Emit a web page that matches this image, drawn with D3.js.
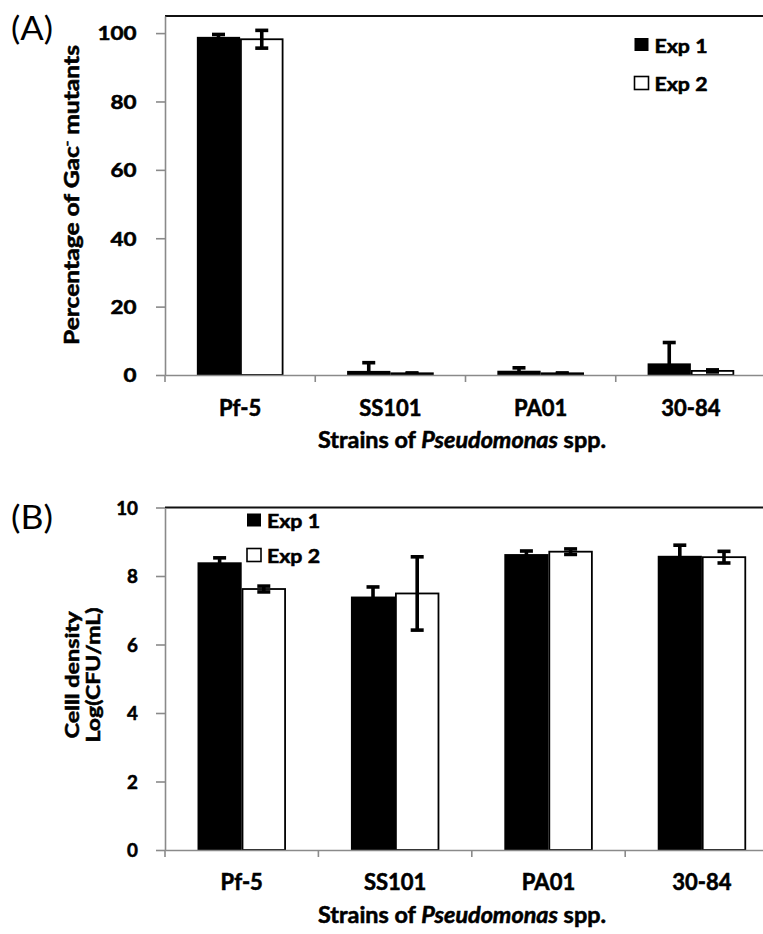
<!DOCTYPE html>
<html><head><meta charset="utf-8">
<script src="https://cdn.jsdelivr.net/npm/d3@7"></script>
<style>
body{margin:0;background:#fff}
svg{display:block}
text{font-family:Lato,'Open Sans',sans-serif}
.b{stroke:#000;stroke-width:0.55px;paint-order:fill}
</style>
</head><body>
<svg id="c" width="763" height="934"></svg>
<script>
// ---- data ----
const categories = ["Pf-5", "SS101", "PA01", "30-84"];
const seriesNames = ["Exp 1", "Exp 2"];
// Panel A: percentage of Gac- mutants
const gacExp1 = [98.9, 1.2, 1.25, 3.4];
const gacExp1Err = [0.7, 2.4, 0.85, 6.1];
const gacExp2 = [98.2, 0.5, 0.5, 1.2];
const gacExp2Err = [2.6, 0.1, 0.1, 0.3];
const gacTicks = [0, 20, 40, 60, 80, 100];
// Panel B: cell density log(CFU/mL)
const cfuExp1 = [8.40, 7.40, 8.64, 8.59];
const cfuExp1Err = [0.13, 0.28, 0.09, 0.31];
const cfuExp2 = [7.62, 7.49, 8.71, 8.55];
const cfuExp2Err = [0.085, 1.07, 0.08, 0.17];
const cfuTicks = [0, 2, 4, 6, 8, 10];

const svg = d3.select("#c");
const AXIS_GREY = "#8a8a8a";

function panel(cfg) {
  const g = svg.append("g");
  const x = d3.scaleBand().domain(categories).range([cfg.left, cfg.right]).padding(0);
  const y = d3.scaleLinear().domain([0, cfg.yMax]).range([cfg.bottom, cfg.top]);
  const bw = x.bandwidth();
  const barW = bw * 0.288;
  const xs = d3.scaleBand().domain(seriesNames).range([bw / 2 - barW, bw / 2 + barW]).padding(0);

  const rows = categories.map((c, i) => ({
    cat: c,
    vals: [
      { s: "Exp 1", v: cfg.e1[i], e: cfg.e1e[i] },
      { s: "Exp 2", v: cfg.e2[i], e: cfg.e2e[i] }
    ]
  }));

  // top frame line
  g.append("line")
    .attr("x1", cfg.left).attr("x2", cfg.right)
    .attr("y1", y(cfg.yMax)).attr("y2", y(cfg.yMax))
    .attr("stroke", "#111").attr("stroke-width", 1.8);

  // y axis
  const ya = g.append("g").attr("transform", `translate(${cfg.left},0)`)
    .call(d3.axisLeft(y).tickValues(cfg.ticks).tickSize(9).tickSizeOuter(0));
  ya.select(".domain").attr("stroke", AXIS_GREY).attr("stroke-width", 1.6);
  ya.selectAll(".tick line").attr("stroke", AXIS_GREY).attr("stroke-width", 1.6);
  ya.selectAll(".tick text")
    .attr("class", "b")
    .attr("x", -cfg.tickLabelGap).attr("dy", "0.36em")
    .attr("font-size", 19).attr("font-weight", 700).attr("fill", "#000")
    .attr("font-family", "Lato, sans-serif")
    .attr("textLength", function () { return this.textContent.length * cfg.digitW; })
    .attr("lengthAdjust", "spacingAndGlyphs");

  // bars
  const grp = g.selectAll(".cat").data(rows).join("g")
    .attr("transform", d => `translate(${x(d.cat)},0)`);
  grp.selectAll("rect").data(d => d.vals).join("rect")
    .attr("x", d => xs(d.s) + (d.s === "Exp 2" ? 0.8 : 0))
    .attr("width", d => xs.bandwidth() - (d.s === "Exp 2" ? 1.6 : 0))
    .attr("y", d => y(d.v))
    .attr("height", d => y(0) - y(d.v))
    .attr("fill", d => d.s === "Exp 1" ? "#000" : "#fff")
    .attr("stroke", "#000")
    .attr("stroke-width", d => d.s === "Exp 1" ? 0 : 1.8);

  // error bars
  const capW = 13, eW = 3.6;
  const eb = grp.selectAll(".eb").data(d => d.vals).join("g").attr("class", "eb");
  eb.append("line")
    .attr("x1", d => xs(d.s) + xs.bandwidth() / 2).attr("x2", d => xs(d.s) + xs.bandwidth() / 2)
    .attr("y1", d => y(d.v + d.e)).attr("y2", d => y(Math.max(0, d.v - d.e)))
    .attr("stroke", "#000").attr("stroke-width", eW);
  eb.append("line")
    .attr("x1", d => xs(d.s) + xs.bandwidth() / 2 - capW / 2).attr("x2", d => xs(d.s) + xs.bandwidth() / 2 + capW / 2)
    .attr("y1", d => y(d.v + d.e)).attr("y2", d => y(d.v + d.e))
    .attr("stroke", "#000").attr("stroke-width", eW);
  eb.filter(d => d.v - d.e > 0).append("line")
    .attr("x1", d => xs(d.s) + xs.bandwidth() / 2 - capW / 2).attr("x2", d => xs(d.s) + xs.bandwidth() / 2 + capW / 2)
    .attr("y1", d => y(d.v - d.e)).attr("y2", d => y(d.v - d.e))
    .attr("stroke", "#000").attr("stroke-width", eW);

  // x axis: labels at band centres, ticks at band edges
  const xa = g.append("g").attr("transform", `translate(0,${y(0)})`)
    .call(d3.axisBottom(x).tickSize(0).tickSizeOuter(0));
  xa.select(".domain").attr("stroke", AXIS_GREY).attr("stroke-width", 1.6);
  xa.selectAll(".tick text")
    .attr("class", "b")
    .attr("y", cfg.catLabelDy).attr("dy", 0)
    .attr("font-size", 22).attr("font-weight", 700).attr("fill", "#000")
    .attr("font-family", "Lato, sans-serif");
  const edges = categories.map(c => x(c)).concat([cfg.right]);
  xa.selectAll(".edge").data(edges).join("line").attr("class", "edge")
    .attr("x1", d => d).attr("x2", d => d).attr("y1", 0).attr("y2", 7)
    .attr("stroke", AXIS_GREY).attr("stroke-width", 1.6);

  // x title
  const xt = g.append("text").attr("class", "b")
    .attr("x", cfg.titleX).attr("y", cfg.xTitleY)
    .attr("text-anchor", "middle").attr("font-size", 22.5).attr("font-weight", 700)
    .attr("textLength", 288).attr("lengthAdjust", "spacingAndGlyphs");
  xt.append("tspan").text("Strains of ");
  xt.append("tspan").attr("font-style", "italic").text("Pseudomonas");
  xt.append("tspan").text(" spp.");

  // legend
  cfg.legend.forEach((L, i) => {
    g.append("rect").attr("x", L.x).attr("y", L.y).attr("width", 14).attr("height", 13)
      .attr("fill", i === 0 ? "#000" : "#fff").attr("stroke", "#000").attr("stroke-width", i === 0 ? 0 : 1.6);
    g.append("text").attr("class", "b").attr("x", L.x + 20).attr("y", L.y + 14.5)
      .attr("font-size", 19.5).attr("font-weight", 700)
      .attr("textLength", 53).attr("lengthAdjust", "spacingAndGlyphs")
      .text(seriesNames[i]);
  });

  // panel letter
  g.append("text").attr("x", 11).attr("y", cfg.letterY)
    .attr("font-size", 32).attr("font-weight", 400)
    .attr("textLength", 42).attr("lengthAdjust", "spacingAndGlyphs")
    .text(cfg.letter);
  return { g, x, y };
}

// Panel A
const A = panel({
  left: 165, right: 766, top: 16, bottom: 375, yMax: 105,
  ticks: gacTicks, e1: gacExp1, e1e: gacExp1Err, e2: gacExp2, e2e: gacExp2Err,
  tickLabelGap: 28.5, digitW: 13, catLabelDy: 41, xTitleY: 448, titleX: 462,
  legend: [{ x: 634.5, y: 38 }, { x: 634.5, y: 76.5 }],
  letter: "(A)", letterY: 40
});
A.g.append("text").attr("class", "b")
  .attr("transform", "translate(79,195) rotate(-90)")
  .attr("text-anchor", "middle").attr("font-size", 20).attr("font-weight", 700)
  .attr("textLength", 300).attr("lengthAdjust", "spacingAndGlyphs")
  .html('Percentage of Gac<tspan dy="-8" font-size="12">-</tspan><tspan dy="8"> mutants</tspan>');

// Panel B
const B = panel({
  left: 165, right: 778.6, top: 507.5, bottom: 850, yMax: 10,
  ticks: cfuTicks, e1: cfuExp1, e1e: cfuExp1Err, e2: cfuExp2, e2e: cfuExp2Err,
  tickLabelGap: 27, digitW: 10.9, catLabelDy: 40, xTitleY: 923, titleX: 462,
  legend: [{ x: 247, y: 513.5 }, { x: 247, y: 548.5 }],
  letter: "(B)", letterY: 529
});
B.g.append("text").attr("class", "b")
  .attr("transform", "translate(79,675) rotate(-90)")
  .attr("text-anchor", "middle").attr("font-size", 19).attr("font-weight", 700)
  .attr("textLength", 127).attr("lengthAdjust", "spacingAndGlyphs")
  .text("Celll density");
B.g.append("text").attr("class", "b")
  .attr("transform", "translate(100,675) rotate(-90)")
  .attr("text-anchor", "middle").attr("font-size", 19).attr("font-weight", 700)
  .attr("textLength", 135).attr("lengthAdjust", "spacingAndGlyphs")
  .text("Log(CFU/mL)");
</script>
</body></html>
